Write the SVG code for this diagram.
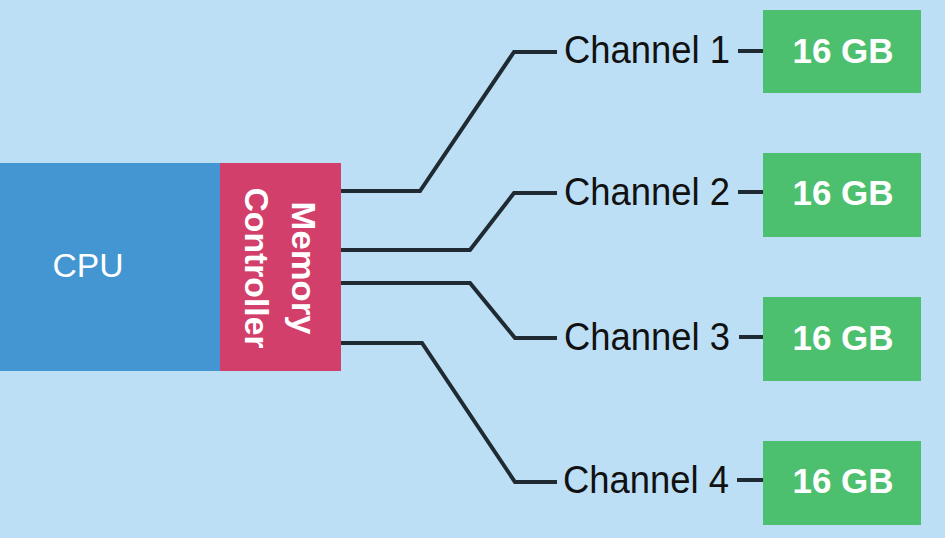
<svg xmlns="http://www.w3.org/2000/svg" width="945" height="538" viewBox="0 0 945 538">
<style>
.bg{fill:#bcdff6}
.cpu{fill:#4396d1}
.mc{fill:#d23f6b}
.mem{fill:#4dc06f}
.wire{fill:none;stroke:#1f2a33;stroke-width:4;stroke-linejoin:miter}
.dash{fill:none;stroke:#1f2a33;stroke-width:4}
.lbl{font-family:"Liberation Sans",Arial,sans-serif;fill:#111;font-size:38px}
.wt{font-family:"Liberation Sans",Arial,sans-serif;fill:#fff}
.gb{font-family:"Liberation Sans",Arial,sans-serif;fill:#fff;font-weight:bold;font-size:35px;text-anchor:middle}
</style>
<rect class="bg" x="0" y="0" width="945" height="538"/>
<g id="cpu">
<rect class="cpu" x="0" y="163" width="221" height="208"/>
<text class="wt" x="88" y="277" font-size="34" text-anchor="middle" textLength="71" lengthAdjust="spacingAndGlyphs">CPU</text>
</g>
<g id="memory-controller">
<rect class="mc" x="220" y="163" width="121" height="208"/>
<text class="wt" font-size="34" font-weight="bold" text-anchor="middle" transform="translate(292,268) rotate(90)" textLength="133" lengthAdjust="spacingAndGlyphs">Memory</text>
<text class="wt" font-size="34" font-weight="bold" text-anchor="middle" transform="translate(245,268) rotate(90)" textLength="161" lengthAdjust="spacingAndGlyphs">Controller</text>
</g>
<g id="connectors">
<polyline class="wire" points="341,191 420,191 514,52 557,52"/>
<polyline class="wire" points="341,250 470,250 514,193 557,193"/>
<polyline class="wire" points="341,283 470,283 515,338 557,338"/>
<polyline class="wire" points="341,343 422,343 515,482 557,482"/>
<line class="dash" x1="738" y1="51" x2="763" y2="51"/>
<line class="dash" x1="738" y1="192" x2="763" y2="192"/>
<line class="dash" x1="739" y1="337" x2="763" y2="337"/>
<line class="dash" x1="737" y1="480" x2="763" y2="480"/>
</g>
<g id="channel1">
<text class="lbl" x="564" y="63" textLength="166" lengthAdjust="spacingAndGlyphs">Channel 1</text>
</g>
<g id="channel2">
<text class="lbl" x="564" y="205" textLength="166" lengthAdjust="spacingAndGlyphs">Channel 2</text>
</g>
<g id="channel3">
<text class="lbl" x="564" y="350" textLength="166" lengthAdjust="spacingAndGlyphs">Channel 3</text>
</g>
<g id="channel4">
<text class="lbl" x="563" y="493" textLength="166" lengthAdjust="spacingAndGlyphs">Channel 4</text>
</g>
<g id="dimm1">
<rect class="mem" x="763" y="10" width="158" height="83"/>
<text class="gb" x="843" y="63">16 GB</text>
</g>
<g id="dimm2">
<rect class="mem" x="763" y="153" width="158" height="84"/>
<text class="gb" x="843" y="205">16 GB</text>
</g>
<g id="dimm3">
<rect class="mem" x="763" y="297" width="158" height="84"/>
<text class="gb" x="843" y="350">16 GB</text>
</g>
<g id="dimm4">
<rect class="mem" x="763" y="441" width="158" height="84"/>
<text class="gb" x="843" y="493">16 GB</text>
</g>
</svg>
